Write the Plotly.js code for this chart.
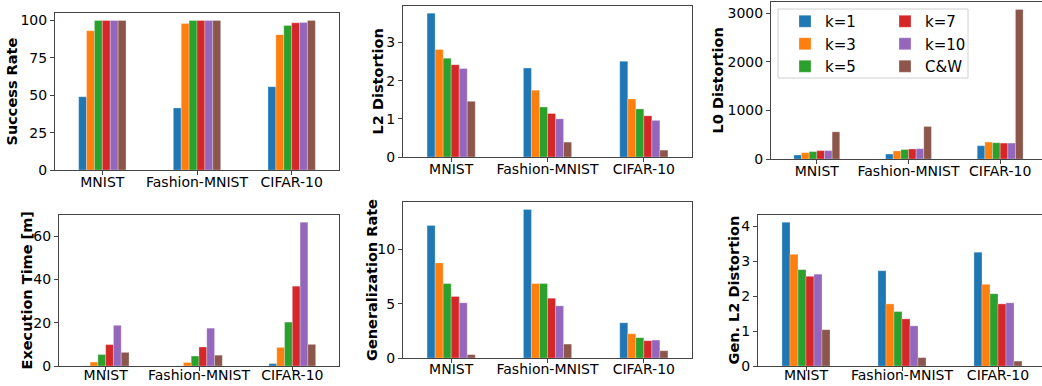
<!DOCTYPE html>
<html>
<head>
<meta charset="utf-8">
<script src="https://cdn.plot.ly/plotly-3.0.1.min.js"></script>
<style>html,body{margin:0;padding:0;background:#fff;}#chart{width:1042px;height:386px;}</style>
</head>
<body>
<div id="chart"></div>
<script>
// ---- data ----
const categories = ['MNIST', 'Fashion-MNIST', 'CIFAR-10'];
const seriesNames = ['k=1', 'k=3', 'k=5', 'k=7', 'k=10', 'C&W'];
const seriesColors = ['#1f77b4', '#ff7f0e', '#2ca02c', '#d62728', '#9467bd', '#8c564b'];

// rows: k=1, k=3, k=5, k=7, k=10, C&W ; columns: MNIST, Fashion-MNIST, CIFAR-10
const successRate = [
  [49.0, 41.5, 55.7],
  [93.1, 98.0, 90.5],
  [100, 100, 96.7],
  [100, 100, 98.4],
  [100, 100, 98.7],
  [100, 100, 100]
];
const l2Distortion = [
  [3.77, 2.33, 2.51],
  [2.82, 1.75, 1.52],
  [2.59, 1.31, 1.26],
  [2.42, 1.14, 1.08],
  [2.32, 1.00, 0.96],
  [1.46, 0.39, 0.18]
];
const l0Distortion = [
  [82, 102, 273],
  [130, 164, 348],
  [152, 194, 334],
  [172, 206, 327],
  [172, 212, 327],
  [559, 668, 3074]
];
const executionTime = [
  [0.05, 0.05, 1.1],
  [1.8, 1.6, 8.6],
  [5.3, 4.6, 20.3],
  [9.9, 8.8, 36.9],
  [18.8, 17.5, 66.5],
  [6.3, 5.0, 10.0]
];
const generalizationRate = [
  [12.2, 13.67, 3.24],
  [8.75, 6.85, 2.23],
  [6.85, 6.85, 1.87],
  [5.66, 5.5, 1.59],
  [5.08, 4.8, 1.65],
  [0.31, 1.28, 0.67]
];
const genL2Distortion = [
  [4.12, 2.73, 3.26],
  [3.20, 1.78, 2.34],
  [2.76, 1.56, 2.07],
  [2.57, 1.35, 1.78],
  [2.63, 1.15, 1.81],
  [1.04, 0.24, 0.14]
];
const axisTitles = ['Success Rate', 'L2 Distortion', 'L0 Distortion', 'Execution Time [m]', 'Generalization Rate', 'Gen. L2 Distortion'];
const yTickSteps = [25, 1, 1000, 20, 5, 1];

// ---- layout geometry (pixels); x1 may lie past the page edge (clipped like the original) ----
const W = 1042, H = 386;
const panels = [
  {data: successRate,        x0: 55,  x1: 339,  y0: 13,  y1: 170, tx: 12,  so: -5},
  {data: l2Distortion,       x0: 403, x1: 692,  y0: 6,   y1: 157, tx: 378, so: -5},
  {data: l0Distortion,       x0: 771, x1: 1046, y0: 2,   y1: 159, tx: 718, so: -5},
  {data: executionTime,      x0: 59,  x1: 339,  y0: 215, y1: 366, tx: 26,  so: -8},
  {data: generalizationRate, x0: 403, x1: 692,  y0: 202, y1: 358, tx: 372, so: -6},
  {data: genL2Distortion,    x0: 758, x1: 1046, y0: 215, y1: 366, tx: 733, so: -8}
];

const traces = [];
const legendFont = {family: 'DejaVu Sans', size: 15, color: '#000'};
const layout = {
  width: W, height: H,
  margin: {l: 0, r: 0, t: 0, b: 0},
  paper_bgcolor: '#fff', plot_bgcolor: '#fff',
  font: {family: 'DejaVu Sans', size: 14, color: '#000'},
  barmode: 'group', bargap: 0.5, bargroupgap: 0,
  showlegend: true,
  legend: {
    x: 785 / W, y: 1 - 5 / H, xanchor: 'left', yanchor: 'top',
    itemwidth: 30, bgcolor: 'rgba(0,0,0,0)', borderwidth: 0, font: legendFont, tracegroupgap: 0
  },
  legend2: {
    x: 885 / W, y: 1 - 5 / H, xanchor: 'left', yanchor: 'top',
    itemwidth: 30, bgcolor: 'rgba(0,0,0,0)', borderwidth: 0, font: legendFont, tracegroupgap: 0
  },
  shapes: [{
    type: 'rect', xref: 'paper', yref: 'paper', layer: 'above',
    x0: 778 / W, x1: 968 / W, y0: 1 - 78 / H, y1: 1 - 9 / H,
    line: {color: '#d0d0d0', width: 1}, fillcolor: 'rgba(255,255,255,0.8)'
  }],
  annotations: []
};

panels.forEach((p, i) => {
  const n = i === 0 ? '' : String(i + 1);
  const xa = 'x' + n, ya = 'y' + n;
  let maxVal = 0;
  p.data.forEach((vals, s) => {
    vals.forEach(v => { if (v > maxVal) maxVal = v; });
    traces.push({
      type: 'bar', x: categories, y: vals, name: seriesNames[s],
      xaxis: xa, yaxis: ya,
      marker: {color: seriesColors[s], line: {width: 0.6, color: 'rgba(255,255,255,0.45)'}},
      showlegend: i === 0, legend: s < 3 ? 'legend' : 'legend2',
      hoverinfo: 'x+y+name'
    });
  });
  const clipped = p.x1 > W;
  const unitPx = (p.x1 - p.x0) / 3;
  const visRight = Math.min(p.x1, W);
  const axCommon = {
    showline: true, linecolor: '#444', linewidth: 1,
    ticks: 'outside', ticklen: 4, tickcolor: '#444', tickwidth: 1,
    showgrid: false, zeroline: false,
    tickfont: {family: 'DejaVu Sans', size: 14, color: '#000'}
  };
  layout['xaxis' + n] = Object.assign({}, axCommon, {
    mirror: true,
    domain: [p.x0 / W, visRight / W], anchor: ya, type: 'category',
    range: [-0.5, -0.5 + (visRight - p.x0) / unitPx],
    ticklabelstandoff: p.so
  });
  layout['yaxis' + n] = Object.assign({}, axCommon, {
    mirror: !clipped,
    domain: [1 - p.y1 / H, 1 - p.y0 / H], anchor: xa,
    range: [0, maxVal * 1.05], tick0: 0, dtick: yTickSteps[i]
  });
  layout.annotations.push({
    text: '<b>' + axisTitles[i] + '</b>', xref: 'paper', yref: 'paper',
    x: p.tx / W, y: 1 - ((p.y0 + p.y1) / 2) / H, xanchor: 'center', yanchor: 'middle',
    textangle: -90, showarrow: false,
    font: {family: 'DejaVu Sans', size: 14.5, color: '#000'}
  });
});

Plotly.newPlot('chart', traces, layout, {displayModeBar: false, staticPlot: true});
</script>
</body>
</html>
